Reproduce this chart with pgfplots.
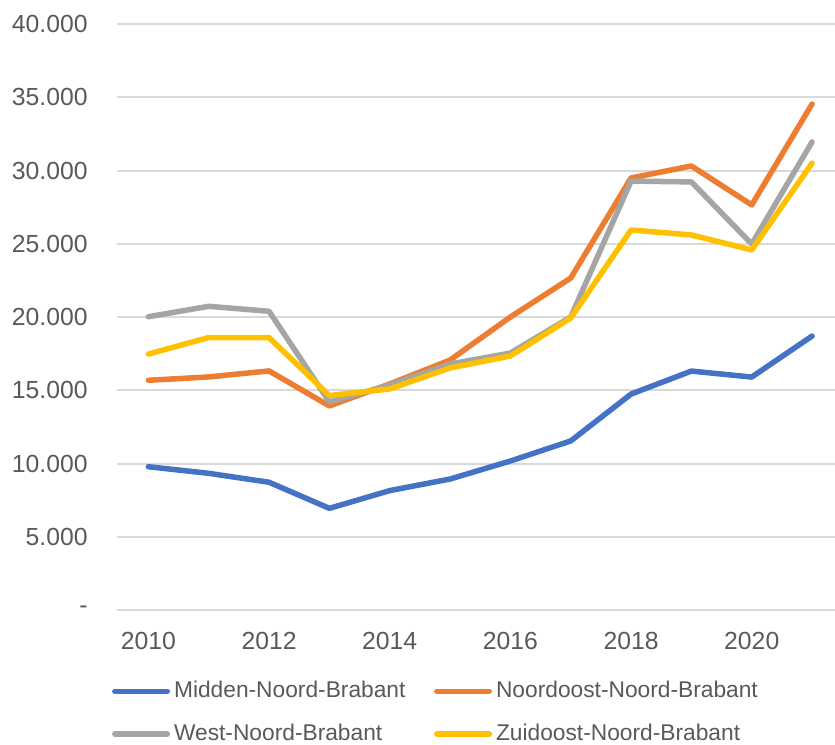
\documentclass[border=0pt]{standalone}
\usepackage{pgfplots}
\pgfplotsset{compat=1.18}
\usepackage{fontspec}
\setmainfont{Liberation Sans}
\definecolor{cMid}{HTML}{4472C4}
\definecolor{cNo}{HTML}{ED7D31}
\definecolor{cWe}{HTML}{A5A5A5}
\definecolor{cZu}{HTML}{FFC000}
\definecolor{txt}{HTML}{595959}
\definecolor{grd}{HTML}{D9D9D9}
\begin{document}
\begin{tikzpicture}[x=1pt,y=1pt]
\useasboundingbox (-46.8pt,-53.6pt) rectangle (287.2pt,244pt);
\begin{axis}[
  at={(0,0)}, anchor=south west,
  width=287.2pt, height=234.4pt, scale only axis,
  xmin=2009.48, xmax=2021.38,
  ymin=0, ymax=40000,
  scaled y ticks=false,
  axis line style={draw=none},
  major tick length=0pt,
  xtick={2010,2012,2014,2016,2018,2020},
  xticklabels={2010,2012,2014,2016,2018,2020},
  ytick={0,5000,10000,15000,20000,25000,30000,35000,40000},
  yticklabels={-\hspace{4.4pt},5.000,10.000,15.000,20.000,25.000,30.000,35.000,40.000},
  ymajorgrids, grid style={grd, line width=0.8pt},
  tick label style={font=\fontsize{9.9pt}{11pt}\selectfont, text=txt},
  yticklabel style={xshift=-8.2pt},
  xticklabel style={yshift=-5.5pt},
  legend columns=2,
  legend style={draw=none, at={(-0.018,-0.112)}, anchor=north west,
    font=\fontsize{9.1pt}{11pt}\selectfont, text=txt,
    nodes={inner sep=0pt, anchor=west},
    /tikz/every odd column/.append style={column sep=1.6pt},
    row sep=9pt},
  legend image code/.code={\draw[line width=2.2pt, line cap=round] (1pt,0pt) -- (22pt,0pt);},
  every axis plot/.append style={line width=2.2pt, line join=round, line cap=round},
]
\addplot[cMid] coordinates {(2010,9780) (2011,9330) (2012,8720) (2013,6940) (2014,8150) (2015,8940) (2016,10170) (2017,11540) (2018,14740) (2019,16310) (2020,15900) (2021,18700)};
\addlegendentry{\makebox[104pt][l]{Midden-Noord-Brabant}}
\addplot[cNo] coordinates {(2010,15680) (2011,15910) (2012,16320) (2013,13930) (2014,15430) (2015,17060) (2016,20000) (2017,22660) (2018,29490) (2019,30310) (2020,27650) (2021,34540)};
\addlegendentry{Noordoost-Noord-Brabant}
\addplot[cWe] coordinates {(2010,20020) (2011,20730) (2012,20390) (2013,14200) (2014,15360) (2015,16790) (2016,17540) (2017,20000) (2018,29280) (2019,29220) (2020,24980) (2021,31950)};
\addlegendentry{\makebox[104pt][l]{West-Noord-Brabant}}
\addplot[cZu] coordinates {(2010,17470) (2011,18600) (2012,18600) (2013,14640) (2014,15090) (2015,16520) (2016,17340) (2017,19930) (2018,25940) (2019,25600) (2020,24580) (2021,30500)};
\addlegendentry{Zuidoost-Noord-Brabant}
\end{axis}
\end{tikzpicture}
\end{document}
